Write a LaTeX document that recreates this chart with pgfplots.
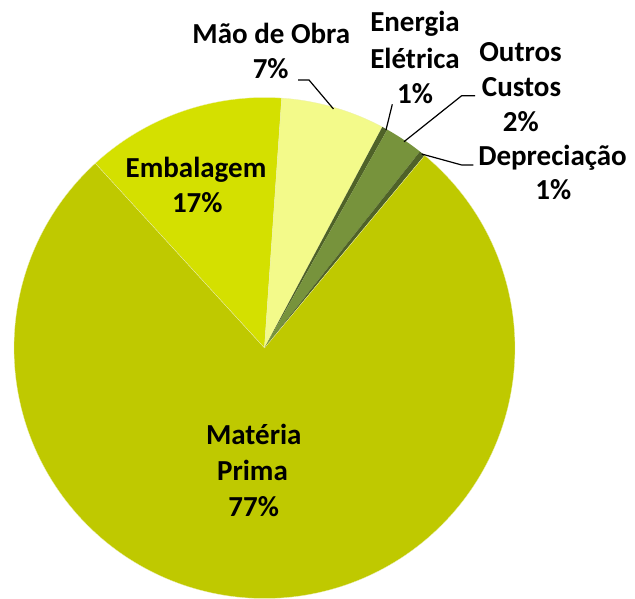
\documentclass[border=0pt]{standalone}
\usepackage{fontspec}
\setmainfont{Carlito}
\usepackage{pgfplots}
\pgfplotsset{compat=1.18}
\definecolor{mat}{RGB}{191,201,0}
\definecolor{emb}{RGB}{212,224,0}
\definecolor{mao}{RGB}{243,250,138}
\definecolor{dark}{RGB}{79,98,40}
\definecolor{outc}{RGB}{119,147,60}
\tikzset{lbl/.style={font=\bfseries\fontsize{29}{35}\selectfont,anchor=base,inner sep=0pt},
  slice/.style={draw=white!70!mat,line width=0.3pt}}
% slice values in percent (clockwise from the start angle)
\def\vEmb{12.9}\def\vMao{6.7}\def\vEne{0.36}\def\vOut{2.5}\def\vDep{0.39}\def\vMat{77.15}
\def\cx{264.5}\def\cy{250}\def\rr{250.5}
\begin{document}
\begin{tikzpicture}
\useasboundingbox (0,0) rectangle (635pt,598pt);
\begin{axis}[x=1pt,y=1pt,xmin=0,xmax=635,ymin=0,ymax=598,
  scale only axis,hide axis,at={(0,0)},anchor=south west,
  clip mode=individual]
\pgfmathsetmacro\aA{132.5}
\pgfmathsetmacro\aB{\aA-3.6*\vEmb}
\addplot[slice,fill=emb,variable=\t,domain=\aB:\aA,samples=40] ({\cx+\rr*cos(t)},{\cy+\rr*sin(t)}) -- (axis cs:\cx,\cy) -- cycle;
\pgfmathsetmacro\aC{\aB-3.6*\vMao}
\addplot[slice,fill=mao,variable=\t,domain=\aC:\aB,samples=30] ({\cx+\rr*cos(t)},{\cy+\rr*sin(t)}) -- (axis cs:\cx,\cy) -- cycle;
\pgfmathsetmacro\aD{\aC-3.6*\vEne}
\addplot[draw=none,fill=dark,variable=\t,domain=\aD:\aC,samples=5] ({\cx+\rr*cos(t)},{\cy+\rr*sin(t)}) -- (axis cs:\cx,\cy) -- cycle;
\pgfmathsetmacro\aE{\aD-3.6*\vOut}
\addplot[draw=none,fill=outc,variable=\t,domain=\aE:\aD,samples=10] ({\cx+\rr*cos(t)},{\cy+\rr*sin(t)}) -- (axis cs:\cx,\cy) -- cycle;
\pgfmathsetmacro\aF{\aE-3.6*\vDep}
\addplot[draw=none,fill=dark,variable=\t,domain=\aF:\aE,samples=5] ({\cx+\rr*cos(t)},{\cy+\rr*sin(t)}) -- (axis cs:\cx,\cy) -- cycle;
\pgfmathsetmacro\aG{\aF-3.6*\vMat}
\addplot[slice,fill=mat,variable=\t,domain=\aG:\aF,samples=200] ({\cx+\rr*cos(t)},{\cy+\rr*sin(t)}) -- (axis cs:\cx,\cy) -- cycle;
% leader lines
\addplot[black,line width=1.2pt] coordinates {(298,518) (309,518) (333.5,489)};
\addplot[black,line width=1.2pt] coordinates {(392.3,493.7) (386,468)};
\addplot[black,line width=1.2pt] coordinates {(475,502.3) (461.7,502.3) (404,456.3)};
\addplot[black,line width=1.2pt] coordinates {(421.7,444) (461.7,433) (473.3,433)};
% labels
\node[lbl] at (axis cs:271.3,554.7) {Mão de Obra};
\node[lbl] at (axis cs:270.7,519.7) {7\%};
\node[lbl] at (axis cs:415,566.3) {Energia};
\node[lbl] at (axis cs:415,529.7) {Elétrica};
\node[lbl] at (axis cs:415,494) {1\%};
\node[lbl] at (axis cs:520.5,536.3) {Outros};
\node[lbl] at (axis cs:521.5,501.3) {Custos};
\node[lbl] at (axis cs:520.8,466.3) {2\%};
\node[lbl] at (axis cs:552.5,432.3) {Depreciação};
\node[lbl] at (axis cs:553.3,398) {1\%};
\node[lbl] at (axis cs:196,420.7) {Embalagem};
\node[lbl] at (axis cs:197.3,385.3) {17\%};
\node[lbl] at (axis cs:253.8,153.7) {Matéria};
\node[lbl] at (axis cs:252.5,117.3) {Prima};
\node[lbl] at (axis cs:253.7,81.3) {77\%};
\end{axis}
\end{tikzpicture}
\end{document}
